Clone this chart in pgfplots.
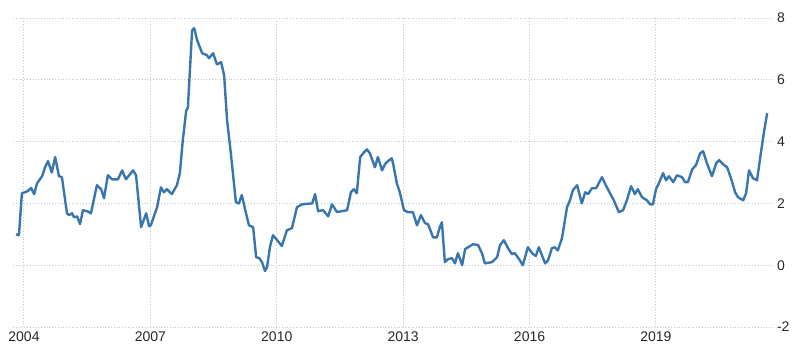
\documentclass[border=0pt]{standalone}
\usepackage{pgfplots}
\pgfplotsset{compat=1.18}
\usepackage{fontspec}
\setmainfont{Liberation Sans}
\definecolor{linec}{RGB}{58,118,174}
\definecolor{gridc}{RGB}{200,200,200}
\definecolor{txt}{RGB}{40,40,40}
\begin{document}
\begin{tikzpicture}
\path[use as bounding box] (-6.5pt,-17pt) rectangle (393.5pt,163.5pt);
\begin{axis}[
  at={(0,0)}, anchor=south west,
  width=379.5pt, height=154.5pt, scale only axis,
  xmin=2003.739, xmax=2021.755, ymin=-2, ymax=8,
  axis line style={draw=none},
  xtick={2004,2007,2010,2013,2016,2019},
  ytick={-2,0,2,4,6,8},
  grid=major,
  major grid style={gridc, densely dotted, line width=0.5pt},
  tick style={draw=none},
  xticklabel style={font=\fontsize{7}{8}\selectfont, text=txt, yshift=1pt},
  yticklabel style={font=\fontsize{7}{8}\selectfont, text=txt, anchor=west, xshift=-1pt},
  yticklabel pos=right,
  /pgf/number format/assume math mode=true,
  xticklabel={\pgfmathprintnumber[1000 sep={}]{\tick}},
  clip=false,
]
\addplot[linec, line width=1.2pt, line join=round] coordinates {
(2003.81,1.00)(2003.88,0.97)(2003.95,2.33)(2004.02,2.36)(2004.09,2.40)(2004.17,2.50)(2004.24,2.30)
(2004.31,2.65)(2004.43,2.88)(2004.50,3.17)(2004.57,3.37)(2004.66,3.00)(2004.74,3.50)(2004.83,2.88)
(2004.90,2.85)(2005.02,1.68)(2005.07,1.62)(2005.14,1.68)(2005.19,1.55)(2005.26,1.58)(2005.33,1.33)
(2005.40,1.78)(2005.50,1.75)(2005.59,1.68)(2005.73,2.59)(2005.83,2.46)(2005.90,2.17)(2005.99,2.91)
(2006.09,2.78)(2006.23,2.78)(2006.33,3.07)(2006.42,2.78)(2006.59,3.07)(2006.66,2.91)(2006.78,1.23)
(2006.90,1.68)(2006.97,1.26)(2007.01,1.29)(2007.16,1.88)(2007.25,2.52)(2007.32,2.36)(2007.39,2.46)
(2007.51,2.30)(2007.63,2.59)(2007.70,2.98)(2007.77,4.05)(2007.85,5.00)(2007.89,5.10)(2007.99,7.60)
(2008.04,7.67)(2008.11,7.28)(2008.23,6.86)(2008.34,6.80)(2008.39,6.70)(2008.49,6.86)(2008.58,6.50)
(2008.68,6.57)(2008.75,6.15)(2008.82,4.70)(2008.91,3.62)(2009.03,2.04)(2009.10,2.00)(2009.17,2.27)
(2009.27,1.68)(2009.34,1.29)(2009.44,1.23)(2009.51,0.26)(2009.58,0.23)(2009.65,0.10)(2009.72,-0.19)
(2009.77,-0.06)(2009.84,0.60)(2009.91,0.97)(2010.01,0.81)(2010.12,0.62)(2010.24,1.13)(2010.36,1.20)
(2010.48,1.88)(2010.60,1.97)(2010.84,2.00)(2010.91,2.30)(2010.98,1.75)(2011.10,1.78)(2011.22,1.58)
(2011.31,1.97)(2011.43,1.72)(2011.67,1.78)(2011.76,2.36)(2011.83,2.46)(2011.90,2.33)(2011.98,3.50)
(2012.05,3.62)(2012.14,3.75)(2012.21,3.62)(2012.33,3.17)(2012.40,3.50)(2012.50,3.07)(2012.57,3.27)
(2012.64,3.37)(2012.73,3.46)(2012.76,3.30)(2012.85,2.65)(2012.92,2.36)(2013.02,1.78)(2013.11,1.72)
(2013.23,1.72)(2013.33,1.29)(2013.42,1.62)(2013.52,1.36)(2013.59,1.33)(2013.71,0.90)(2013.80,0.90)
(2013.87,1.23)(2013.92,1.39)(2013.99,0.10)(2014.06,0.19)(2014.16,0.23)(2014.23,0.06)(2014.30,0.39)
(2014.40,0.00)(2014.47,0.52)(2014.54,0.58)(2014.66,0.68)(2014.78,0.65)(2014.87,0.39)(2014.94,0.06)
(2015.11,0.10)(2015.23,0.26)(2015.30,0.65)(2015.39,0.81)(2015.49,0.55)(2015.58,0.36)(2015.65,0.39)
(2015.77,0.16)(2015.84,0.00)(2015.96,0.58)(2016.08,0.36)(2016.15,0.30)(2016.22,0.58)(2016.37,0.06)
(2016.44,0.16)(2016.53,0.55)(2016.60,0.58)(2016.67,0.48)(2016.77,0.87)(2016.89,1.88)(2016.96,2.10)
(2017.03,2.43)(2017.13,2.59)(2017.24,2.00)(2017.32,2.36)(2017.39,2.30)(2017.48,2.49)(2017.58,2.49)
(2017.72,2.85)(2017.81,2.59)(2017.91,2.33)(2018.00,2.10)(2018.12,1.72)(2018.22,1.78)(2018.31,2.10)
(2018.41,2.56)(2018.50,2.30)(2018.57,2.46)(2018.67,2.20)(2018.79,2.10)(2018.86,1.97)(2018.93,1.97)
(2019.00,2.46)(2019.07,2.65)(2019.17,2.98)(2019.24,2.75)(2019.31,2.88)(2019.41,2.69)(2019.50,2.91)
(2019.62,2.85)(2019.69,2.69)(2019.76,2.69)(2019.86,3.10)(2019.95,3.24)(2020.05,3.62)(2020.12,3.69)
(2020.21,3.30)(2020.33,2.88)(2020.43,3.30)(2020.50,3.40)(2020.59,3.27)(2020.69,3.17)(2020.78,2.82)
(2020.88,2.36)(2020.95,2.20)(2021.07,2.10)(2021.14,2.33)(2021.21,3.07)(2021.30,2.82)(2021.40,2.75)
(2021.49,3.62)(2021.56,4.27)(2021.64,4.92)
};
\end{axis}
\end{tikzpicture}
\end{document}
